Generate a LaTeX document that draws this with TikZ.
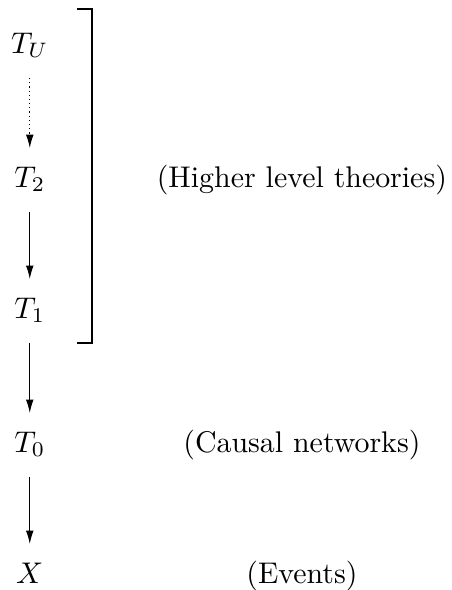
\documentclass[tikz,border=0pt]{standalone}
\usetikzlibrary{arrows.meta}
\begin{document}
\begin{tikzpicture}[
  lvl/.style={anchor=base, inner sep=0pt, text height=7pt, text depth=2pt},
  lab/.style={anchor=base},
  arr/.style={-{Latex[length=4.5pt,width=2.6pt]}, shorten <=6pt, shorten >=6pt}
]
\useasboundingbox (0,0) rectangle (5.315,-6.938);
\foreach \n/\y/\t in {tu/-0.629/T_U, t2/-2.205/T_2, t1/-3.745/T_1, t0/-5.321/T_0, x/-6.861/X} {
  \node[lvl] (\n) at (0.35,\y) {$\t$};
}
\node[lab] (higher) at (3.55,-2.205) {(Higher level theories)};
\node[lab] (causal) at (3.55,-5.321) {(Causal networks)};
\node[lab] (events) at (3.55,-6.861) {(Events)};
\draw[arr, densely dotted] (tu) -- (t2);
\draw[arr] (t2) -- (t1);
\draw[arr] (t1) -- (t0);
\draw[arr] (t0) -- (x);
% bracket round the higher levels
\coordinate (brtop) at (0.905,-0.106);
\coordinate (brbot) at (0.905,-4.033);
\draw (brtop) -- ++(0.177,0) |- (brbot);
\end{tikzpicture}
\end{document}
